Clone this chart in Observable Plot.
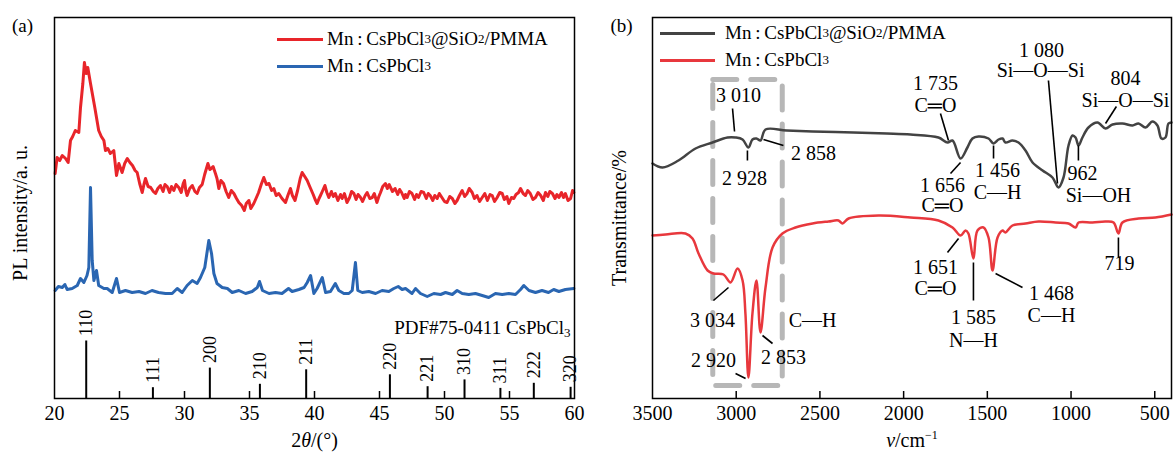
<!DOCTYPE html>
<html><head><meta charset="utf-8">
<script src="https://cdn.jsdelivr.net/npm/d3@7"></script>
<script src="https://cdn.jsdelivr.net/npm/@observablehq/plot@0.6"></script>
<style>
html,body{margin:0;padding:0;background:#fff;}
#wrap{position:relative;width:1173px;height:452px;display:flex;overflow:hidden;}
#pa{width:590px;height:452px;}
#pb{width:583px;height:452px;}
.leg{position:absolute;height:24px;font-family:"Liberation Serif","Times New Roman",serif;font-size:19px;display:flex;align-items:center;white-space:nowrap;color:#000;}
.leg .sw{display:inline-block;height:3px;}
.leg sub{font-size:13px;vertical-align:-4px;line-height:0;}
</style></head><body>
<div id="wrap"><div id="pa"></div><div id="pb"></div></div>
<script>
// ---------------- Panel (a): XRD ----------------
const xTicksA = [20, 25, 30, 35, 40, 45, 50, 55, 60];
const innerTicksA = [25, 30, 35, 40, 45, 50, 55];
const seriesA = ["Mn:CsPbCl3@SiO2/PMMA", "Mn:CsPbCl3"];
// 2θ (deg), intensity (a.u.)
const redXRD = [[20.05,225],[20.2,241],[20.4,238],[20.6,243],[20.85,240],[21.05,236],[21.23,258],[21.4,262],[21.6,268],[21.87,266],[22.0,291],[22.18,315],[22.3,336],[22.44,325],[22.56,331],[22.77,315],[23.1,291],[23.4,268],[23.6,262],[23.8,258],[23.92,248],[24.1,250],[24.3,245],[24.56,248],[24.77,223],[24.95,235],[25.2,226],[25.4,235],[25.6,240],[25.8,236],[26.0,233],[26.2,228],[26.36,226],[26.55,215],[26.75,206],[26.88,214],[27.0,220],[27.2,212],[27.4,211],[27.6,207],[27.77,205],[27.95,210],[28.15,213],[28.35,207],[28.5,214],[28.67,212],[28.85,206],[29.0,212],[29.18,208],[29.35,214],[29.56,211],[29.75,206],[29.9,215],[30.0,218],[30.1,208],[30.2,203],[30.4,210],[30.6,213],[30.8,207],[30.97,205],[31.15,211],[31.36,214],[31.55,224],[31.8,235],[31.95,229],[32.05,230],[32.2,232],[32.38,225],[32.5,220],[32.64,210],[32.8,218],[33.0,215],[33.2,207],[33.4,201],[33.6,208],[33.8,205],[34.0,200],[34.18,196],[34.4,193],[34.6,188],[34.75,195],[34.95,198],[35.1,190],[35.33,195],[35.5,200],[35.7,206],[35.9,214],[36.1,221],[36.3,214],[36.5,215],[36.7,208],[36.87,210],[37.05,203],[37.25,205],[37.5,200],[37.77,196],[37.95,203],[38.15,210],[38.3,203],[38.5,198],[38.7,208],[38.9,220],[39.05,226],[39.25,222],[39.44,218],[39.6,213],[39.7,210],[39.9,204],[40.05,199],[40.2,195],[40.35,200],[40.46,203],[40.6,207],[40.8,213],[40.95,206],[41.1,201],[41.3,207],[41.45,202],[41.6,205],[41.8,198],[42.0,204],[42.13,200],[42.3,205],[42.5,196],[42.7,201],[42.85,207],[43.03,205],[43.2,199],[43.35,204],[43.54,201],[43.7,197],[43.9,203],[44.05,206],[44.25,200],[44.44,201],[44.6,205],[44.8,196],[44.95,202],[45.08,206],[45.25,212],[45.46,215],[45.6,210],[45.75,214],[45.85,211],[46.0,207],[46.2,210],[46.4,204],[46.55,209],[46.7,206],[46.9,200],[47.0,204],[47.13,201],[47.3,207],[47.5,205],[47.7,199],[47.85,204],[48.0,201],[48.2,207],[48.4,206],[48.6,200],[48.75,205],[48.9,203],[49.1,198],[49.25,203],[49.44,200],[49.6,205],[49.8,201],[50.0,197],[50.2,196],[50.4,202],[50.6,200],[50.8,195],[50.97,198],[51.15,203],[51.36,208],[51.55,202],[51.74,205],[51.9,210],[52.13,206],[52.3,200],[52.5,203],[52.7,197],[52.9,201],[53.1,205],[53.3,198],[53.5,204],[53.67,203],[53.85,197],[54.05,201],[54.25,206],[54.44,205],[54.6,199],[54.8,202],[54.95,195],[55.15,201],[55.33,200],[55.5,204],[55.7,206],[55.85,210],[56.05,205],[56.23,203],[56.4,208],[56.6,205],[56.8,199],[57.0,201],[57.2,206],[57.4,203],[57.6,198],[57.77,206],[57.95,202],[58.1,207],[58.3,205],[58.5,200],[58.65,204],[58.8,201],[59.0,206],[59.15,201],[59.3,205],[59.5,198],[59.7,200],[59.85,208],[59.95,206]];
const blueXRD = [[20.05,108],[20.3,112],[20.6,111],[20.8,114],[20.97,109],[21.36,110],[21.75,113],[22.0,120],[22.26,116],[22.5,123],[22.64,131],[22.77,211],[22.9,138],[23.03,118],[23.23,128],[23.4,113],[23.8,110],[24.05,110],[24.44,106],[24.77,120],[25.0,106],[25.46,108],[25.97,106],[26.5,107],[27.0,105],[27.5,108],[28.0,106],[28.54,105],[29.05,105],[29.44,110],[29.82,106],[30.2,113],[30.6,118],[30.97,115],[31.23,121],[31.56,131],[31.87,158],[32.08,145],[32.26,125],[32.5,115],[32.9,111],[33.3,110],[33.67,106],[34.18,108],[34.7,105],[35.2,107],[35.6,111],[35.77,117],[36.0,108],[36.5,105],[37.0,106],[37.5,105],[38.0,110],[38.28,107],[38.8,109],[39.2,111],[39.44,116],[39.7,123],[39.95,105],[40.2,110],[40.6,121],[40.85,106],[41.23,107],[41.6,115],[41.87,108],[42.26,105],[42.64,105],[42.9,108],[43.15,136],[43.33,108],[43.67,106],[44.18,107],[44.7,105],[45.2,108],[45.72,107],[46.1,110],[46.44,112],[46.74,109],[47.0,110],[47.5,105],[47.77,110],[48.15,105],[48.67,102],[49.18,105],[49.7,104],[50.08,106],[50.6,104],[50.97,108],[51.36,105],[51.87,104],[52.38,105],[52.9,103],[53.4,101],[53.92,105],[54.44,104],[54.95,105],[55.46,104],[55.85,109],[56.1,113],[56.5,108],[57.0,106],[57.5,108],[58.0,106],[58.4,109],[58.8,107],[59.3,109],[59.95,110]];
// PDF#75-0411 reference lines
const refHKL   = ["110","111","200","210","211","220","221","310","311","222","320"];
const refTheta = [22.44, 27.57, 31.95, 35.8, 39.36, 45.8, 48.7, 51.54, 54.3, 56.87, 59.7];
const refInt   = [57.5, 10.8, 30.4, 14.2, 28.7, 23.7, 11.8, 18.6, 10.1, 15.2, 11.2];
const refLabel = "PDF#75-0411 CsPbCl3";

// ---------------- Panel (b): FTIR ----------------
const xTicksB = [3500, 3000, 2500, 2000, 1500, 1000, 500];
const innerTicksB = [3000, 2500, 2000, 1500, 1000, 500];
// wavenumber (cm-1), transmittance (a.u.)
const blackFTIR = [[3500,235],[3440,231],[3345,238],[3243,250],[3142,256],[3052,261],[3004,261],[2962,259],[2927,251],[2903,259],[2879,260],[2855,258],[2825,269],[2700,268],[2544,267],[2300,266],[2100,265],[1959,264],[1792,261],[1738,256],[1708,258],[1660,240],[1619,251],[1589,260],[1553,262],[1493,260],[1463,255],[1433,259],[1409,260],[1392,256],[1350,258],[1314,256],[1272,248],[1230,236],[1170,228],[1111,221],[1075,211],[1045,221],[1015,253],[991,263],[973,261],[955,253],[932,261],[896,271],[842,276],[794,270],[752,274],[693,275],[633,273],[597,275],[555,271],[514,277],[484,273],[460,260],[436,261],[418,275],[400,276]];
const redFTIR = [[3500,163],[3422,164],[3303,165],[3261,160],[3225,145],[3171,128],[3136,125],[3076,124],[3034,116],[2992,130],[2962,118],[2945,85],[2927,21],[2903,85],[2879,118],[2855,66],[2825,111],[2783,151],[2724,165],[2646,171],[2544,175],[2449,177],[2389,178],[2365,175],[2329,180],[2150,183],[1959,181],[1792,178],[1708,171],[1660,163],[1630,168],[1613,165],[1583,140],[1559,168],[1523,171],[1493,161],[1469,128],[1439,161],[1409,168],[1392,166],[1350,173],[1272,175],[1194,177],[1093,176],[1015,175],[973,171],[955,176],[872,176],[794,177],[746,176],[717,165],[693,176],[597,180],[496,181],[400,184]];
// dashed box round the C—H region
const boxW = [3140, 2725];
const boxV = [13, 319];
// peak annotations: text, wavenumber, value
const annText = ["3 010","2 928","2 858","3 034","C—H","2 920","2 853","1 735","C═O","1 656","C═O","1 456","C—H","1 080","Si—O—Si","804","Si—O—Si","962","Si—OH","1 651","C═O","1 585","N—H","1 468","C—H","719"];
const annW = [2986,2950,2538,3142,2544,3136,2718,1810,1810,1768,1768,1439,1439,1176,1182,675,675,932,836,1810,1810,1583,1583,1117,1117,711];
const annV = [303,220,245,78,78,38,41,315,293,213,193,228,206,348,328,320,298,225,203,131,110,81,58,105,83,135];
// leader lines: [w1, v1, w2, v2]
const leaders = [[3022,290,3010,267],[2933,248,2933,238],[2837,259,2718,253],[3136,98,3046,111],[3004,25,2944,20],[2843,63,2783,55],[1780,285,1732,258],[1660,236,1720,225],[1463,253,1463,240],[1135,318,1081,215],[729,292,794,275],[956,253,956,238],[1672,160,1738,146],[1583,136,1583,98],[1451,125,1290,111],[717,161,717,141]];

const serif = '"Liberation Serif","Times New Roman",serif';
const SVGNS = "http://www.w3.org/2000/svg";
function richify(svg, map) {
  svg.querySelectorAll("text").forEach(t => {
    const parts = map[t.textContent];
    if (!parts) return;
    while (t.firstChild) t.removeChild(t.firstChild);
    parts.forEach(([s, kind]) => {
      const ts = document.createElementNS(SVGNS, "tspan");
      ts.textContent = s;
      if (kind === "it") ts.setAttribute("font-style", "italic");
      if (kind === "sub") { ts.setAttribute("font-size", "13"); ts.setAttribute("baseline-shift", "-25%"); }
      if (kind === "sup") { ts.setAttribute("font-size", "12"); ts.setAttribute("baseline-shift", "70%"); }
      t.appendChild(ts);
    });
  });
}

const refData = refHKL.map((h, i) => ({hkl: h, theta: refTheta[i], h: refInt[i]}));

const plotA = Plot.plot({
  width: 590, height: 452,
  marginLeft: 54, marginRight: 16, marginTop: 17, marginBottom: 54,
  style: {fontFamily: serif, fontSize: "20px", background: "white", color: "black", overflow: "visible"},
  x: {domain: [20, 60]},
  y: {domain: [0, 381], axis: null},
  marks: [
    Plot.ruleX(innerTicksA, {x: d => d, y1: 0, y2: 7, stroke: "black", strokeWidth: 1.5}),
    Plot.ruleX(refData, {x: "theta", y1: 0, y2: "h", stroke: "black", strokeWidth: 2}),
    Plot.text(refData, {x: "theta", y: "h", text: "hkl", rotate: -90, textAnchor: "start", lineAnchor: "middle", dy: -5, fontSize: 18}),
    Plot.text([refLabel], {frameAnchor: "bottom-right", text: d => d, textAnchor: "end", lineAnchor: "middle", dx: -4, dy: -71, fontSize: 19}),
    Plot.line(redXRD, {x: d => d[0], y: d => d[1], stroke: "#e8252a", strokeWidth: 3, strokeLinejoin: "round"}),
    Plot.line(blueXRD, {x: d => d[0], y: d => d[1], stroke: "#2a66b2", strokeWidth: 3, strokeLinejoin: "round"}),
    Plot.axisX({ticks: xTicksA, tickSize: 0, tickPadding: 7, label: null, fontSize: 20}),
    Plot.frame({stroke: "black", strokeWidth: 1.5}),
    Plot.text(["PL intensity/a. u."], {frameAnchor: "left", text: d => d, rotate: -90, textAnchor: "middle", dx: -34, dy: 5, lineAnchor: "middle", fontSize: 20}),
    Plot.text(["2θ/(°)"], {frameAnchor: "bottom", text: d => d, textAnchor: "middle", dy: 42, lineAnchor: "middle", fontSize: 20}),
    Plot.text(["(a)"], {frameAnchor: "top-left", text: d => d, textAnchor: "middle", dx: -32, dy: 8, lineAnchor: "middle", fontSize: 19})
  ]
});
richify(plotA, {
  "PDF#75-0411 CsPbCl3": [["PDF#75-0411 CsPbCl"], ["3", "sub"]],
  "2θ/(°)": [["2"], ["θ", "it"], ["/(°)"]]
});
document.getElementById("pa").appendChild(plotA);

const annData = annText.map((t, i) => ({t, w: annW[i], v: annV[i]}));
const boxPts = [[boxW[0], boxV[1]], [boxW[1], boxV[1]], [boxW[1], boxV[0]], [boxW[0], boxV[0]], [boxW[0], boxV[1]]];

const plotB = Plot.plot({
  width: 583, height: 452,
  marginLeft: 62, marginRight: 2, marginTop: 17, marginBottom: 54,
  style: {fontFamily: serif, fontSize: "20px", background: "white", color: "black", overflow: "visible"},
  x: {domain: [3500, 400]},
  y: {domain: [0, 381], axis: null},
  marks: [
    Plot.line(boxPts, {x: d => d[0], y: d => d[1], stroke: "#b7b7b7", strokeWidth: 5, strokeDasharray: "24,14"}),
    Plot.ruleX(innerTicksB, {x: d => d, y1: 0, y2: 7, stroke: "black", strokeWidth: 1.5}),
    Plot.line(blackFTIR, {x: d => d[0], y: d => d[1], stroke: "#434343", strokeWidth: 2.5, curve: "catmull-rom"}),
    Plot.line(redFTIR, {x: d => d[0], y: d => d[1], stroke: "#e8383d", strokeWidth: 2.5, curve: "catmull-rom"}),
    Plot.link(leaders, {x1: d => d[0], y1: d => d[1], x2: d => d[2], y2: d => d[3], stroke: "black", strokeWidth: 1.6}),
    Plot.text(annData, {x: "w", y: "v", text: "t", lineAnchor: "middle", fontSize: 20}),
    Plot.axisX({ticks: xTicksB, tickSize: 0, tickPadding: 7, label: null, fontSize: 20, tickFormat: d => String(d)}),
    Plot.frame({stroke: "black", strokeWidth: 1.5}),
    Plot.text(["Transmittance/%"], {frameAnchor: "left", text: d => d, rotate: -90, textAnchor: "middle", dx: -33, dy: 10, lineAnchor: "middle", fontSize: 20}),
    Plot.text(["ν/cm-1"], {frameAnchor: "bottom", text: d => d, textAnchor: "middle", dy: 42, lineAnchor: "middle", fontSize: 20}),
    Plot.text(["(b)"], {frameAnchor: "top-left", text: d => d, textAnchor: "middle", dx: -31, dy: 8, lineAnchor: "middle", fontSize: 19})
  ]
});
richify(plotB, {"ν/cm-1": [["ν", "it"], ["/cm"], ["−1", "sup"]]});
document.getElementById("pb").appendChild(plotB);

// legends (HTML overlays inside the panels)
const wrap = document.getElementById("wrap");
function legendRow(left, centerY, color, lineW, gap, html) {
  const d = document.createElement("div");
  d.className = "leg";
  d.style.left = left + "px";
  d.style.top = (centerY - 12) + "px";
  d.innerHTML = `<span class="sw" style="width:${lineW}px;background:${color};margin-right:${gap}px"></span>${html}`;
  wrap.appendChild(d);
}
const legHTML = [
  "Mn\u2009:\u2009CsPbCl<sub>3</sub>@SiO<sub>2</sub>/PMMA",
  "Mn\u2009:\u2009CsPbCl<sub>3</sub>"
];
legendRow(277, 39, "#e8252a", 46, 4, legHTML[0]);
legendRow(277, 66, "#2a66b2", 46, 4, legHTML[1]);
legendRow(660, 33, "#434343", 55, 10, legHTML[0]);
legendRow(660, 60, "#e8383d", 55, 10, legHTML[1]);
</script>
</body></html>
